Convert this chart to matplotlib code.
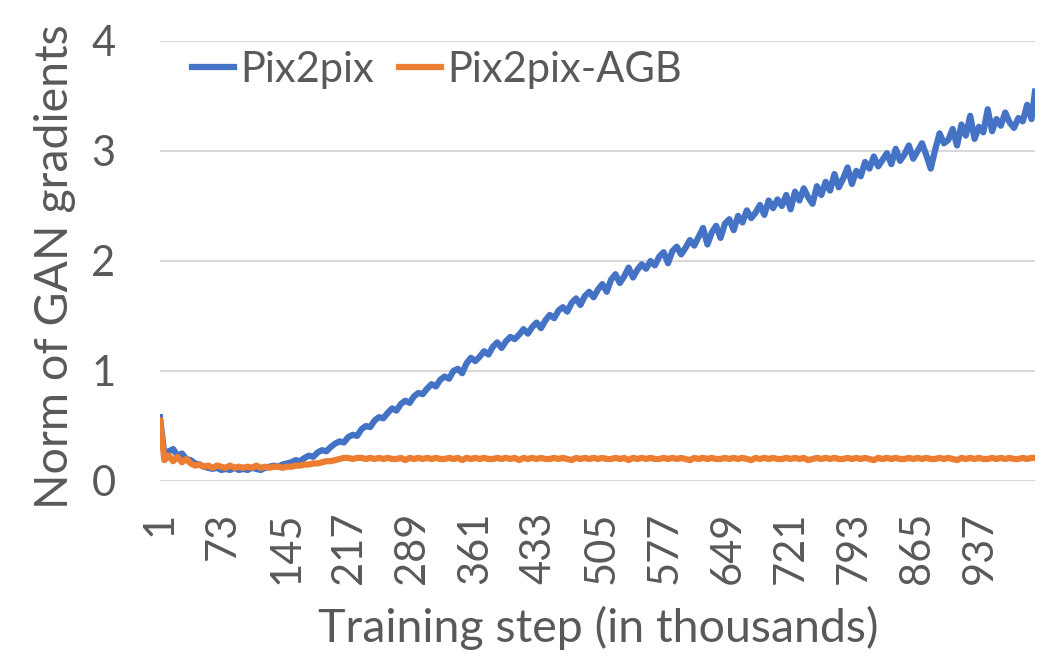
import matplotlib
matplotlib.use("Agg")
import matplotlib.pyplot as plt

# training step (in thousands), sampled every 5k plus the final step
steps = list(range(1, 1000, 5)) + [1000]

pix2pix = [
    0.58, 0.24, 0.27, 0.29, 0.23, 0.25, 0.20, 0.19, 0.16, 0.15,
    0.13, 0.12, 0.11, 0.12, 0.10, 0.11, 0.10, 0.12, 0.10, 0.11,
    0.10, 0.12, 0.11, 0.10, 0.12, 0.13, 0.14, 0.13, 0.15, 0.16,
    0.17, 0.19, 0.18, 0.21, 0.23, 0.22, 0.26, 0.28, 0.27, 0.31,
    0.34, 0.36, 0.35, 0.40, 0.42, 0.41, 0.47, 0.50, 0.49, 0.55,
    0.58, 0.57, 0.62, 0.66, 0.64, 0.70, 0.73, 0.71, 0.77, 0.80,
    0.79, 0.84, 0.88, 0.86, 0.92, 0.95, 0.93, 1.00, 1.02, 0.98,
    1.07, 1.12, 1.09, 1.13, 1.18, 1.15, 1.22, 1.26, 1.21, 1.27,
    1.31, 1.29, 1.33, 1.38, 1.34, 1.40, 1.44, 1.39, 1.46, 1.51,
    1.48, 1.55, 1.58, 1.54, 1.62, 1.66, 1.60, 1.68, 1.72, 1.67,
    1.74, 1.79, 1.72, 1.83, 1.88, 1.80, 1.86, 1.94, 1.85, 1.92,
    1.97, 1.93, 2.00, 1.96, 2.04, 2.08, 1.98, 2.09, 2.13, 2.06,
    2.12, 2.19, 2.14, 2.22, 2.30, 2.15, 2.26, 2.32, 2.21, 2.34,
    2.38, 2.28, 2.41, 2.35, 2.46, 2.39, 2.44, 2.51, 2.42, 2.55,
    2.48, 2.56, 2.50, 2.60, 2.47, 2.63, 2.55, 2.66, 2.58, 2.52,
    2.68, 2.60, 2.72, 2.64, 2.79, 2.67, 2.75, 2.85, 2.70, 2.82,
    2.77, 2.90, 2.84, 2.95, 2.86, 2.92, 2.98, 2.88, 3.02, 2.91,
    2.97, 3.05, 2.93, 3.00, 3.07, 2.96, 2.84, 3.01, 3.16, 3.07,
    3.10, 3.20, 3.05, 3.24, 3.14, 3.32, 3.11, 3.22, 3.17, 3.38,
    3.18, 3.29, 3.23, 3.35, 3.26, 3.21, 3.30, 3.27, 3.42, 3.29,
    3.54,
]

pix2pix_agb = [
    0.55, 0.19, 0.23, 0.18, 0.22, 0.17, 0.20, 0.16, 0.14, 0.15,
    0.13, 0.14, 0.12, 0.14, 0.13, 0.12, 0.14, 0.12, 0.13, 0.12,
    0.13, 0.12, 0.14, 0.12, 0.13, 0.12, 0.13, 0.13, 0.12, 0.13,
    0.13, 0.14, 0.14, 0.15, 0.15, 0.16, 0.16, 0.17, 0.18, 0.18,
    0.19, 0.20, 0.21, 0.21, 0.20, 0.21, 0.21, 0.20, 0.21, 0.20,
    0.21, 0.20, 0.21, 0.20, 0.20, 0.21, 0.19, 0.21, 0.20, 0.21,
    0.20, 0.21, 0.20, 0.21, 0.20, 0.20, 0.21, 0.20, 0.21, 0.19,
    0.21, 0.20, 0.21, 0.20, 0.21, 0.20, 0.20, 0.21, 0.20, 0.21,
    0.20, 0.21, 0.19, 0.21, 0.20, 0.21, 0.20, 0.21, 0.20, 0.20,
    0.21, 0.20, 0.21, 0.20, 0.19, 0.21, 0.20, 0.21, 0.20, 0.21,
    0.20, 0.21, 0.20, 0.20, 0.21, 0.20, 0.21, 0.19, 0.21, 0.20,
    0.21, 0.20, 0.21, 0.20, 0.20, 0.21, 0.20, 0.21, 0.20, 0.21,
    0.20, 0.19, 0.21, 0.20, 0.21, 0.20, 0.21, 0.20, 0.20, 0.21,
    0.20, 0.21, 0.20, 0.21, 0.20, 0.19, 0.21, 0.20, 0.21, 0.20,
    0.21, 0.20, 0.20, 0.21, 0.20, 0.21, 0.20, 0.21, 0.19, 0.20,
    0.21, 0.20, 0.21, 0.20, 0.21, 0.20, 0.20, 0.21, 0.20, 0.21,
    0.20, 0.21, 0.20, 0.19, 0.21, 0.20, 0.21, 0.20, 0.21, 0.20,
    0.20, 0.21, 0.20, 0.21, 0.20, 0.21, 0.20, 0.20, 0.21, 0.20,
    0.21, 0.20, 0.19, 0.21, 0.20, 0.21, 0.20, 0.21, 0.20, 0.20,
    0.21, 0.20, 0.21, 0.20, 0.21, 0.20, 0.20, 0.21, 0.20, 0.21,
    0.21,
]

tick_steps = list(range(1, 1000, 72))
y_ticks = [0, 1, 2, 3, 4]

plt.rcParams['font.family'] = ['Lato', 'DejaVu Sans']
text_color = '#595959'

fig = plt.figure(figsize=(10.55, 6.7), dpi=100)
ax = fig.add_axes([160 / 1055, 189 / 670, 875 / 1055, 440 / 670])

ax.plot(steps, pix2pix, color='#4472C4', lw=4.5, solid_joinstyle='round', label='Pix2pix')
ax.plot(steps, pix2pix_agb, color='#ED7D31', lw=4.5, solid_joinstyle='round', label='Pix2pix-AGB')

ax.set_xlim(1, 1000)
ax.set_ylim(0, 4)
ax.set_yticks(y_ticks)
ax.set_xticks(tick_steps)
ax.set_xticklabels([str(s) for s in tick_steps], rotation=90, va='top', ha='center')
ax.tick_params(axis='both', length=0, labelsize=30, colors=text_color)
ax.tick_params(axis='x', pad=22)
ax.tick_params(axis='y', pad=32)
ax.grid(axis='y', color='#D9D9D9', lw=1.5)
ax.set_axisbelow(True)
for s in ax.spines.values():
    s.set_visible(False)

fig.text(55 / 1055, 1 - 267 / 670, 'Norm of GAN gradients', rotation=90,
         ha='center', va='center', fontsize=33.5, color=text_color)
fig.text(598 / 1055, 1 - 628 / 670, 'Training step (in thousands)',
         ha='center', va='center', fontsize=33.5, color=text_color)

fig.legend(loc='center', bbox_to_anchor=(437 / 1055, 1 - 70 / 670), ncol=2,
           frameon=False, fontsize=30, handlelength=1.0, handletextpad=0.15,
           columnspacing=0.6, labelcolor=text_color)

fig.savefig('out.png', dpi=100)
